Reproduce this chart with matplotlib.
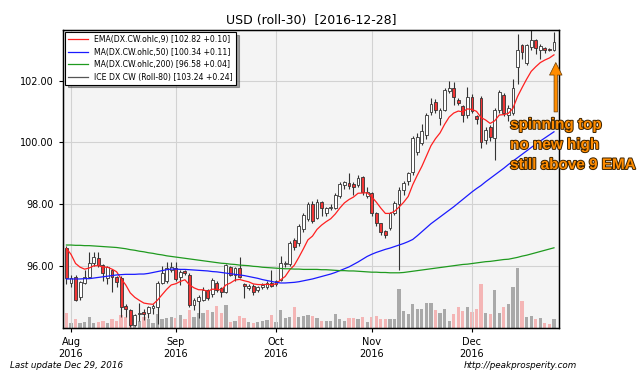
import numpy as np
import pandas as pd
import matplotlib
matplotlib.use("Agg")
from matplotlib import pyplot as plt
from matplotlib.lines import Line2D
import matplotlib.patheffects as pe

# trading days shown (ICE closed on Dec 26)
dates = pd.bdate_range("2016-07-29", "2016-12-28")
dates = dates[dates != pd.Timestamp("2016-12-26")]

opens = [
    96.57, 95.44, 95.63, 94.98, 95.44, 95.63, 96.08, 96.25, 96.02, 95.60,
    95.86, 95.63, 95.60, 94.69, 94.56, 94.07, 94.44, 94.50, 94.46, 94.62,
    94.66, 95.44, 95.50, 95.86, 95.92, 95.63, 95.82, 95.70, 94.72, 94.85,
    94.89, 95.21, 95.08, 95.44, 95.28, 95.14, 95.95, 95.70, 95.92, 95.41,
    95.28, 95.34, 95.21, 95.31, 95.31, 95.44, 95.40, 95.55, 96.05, 96.05,
    96.83, 96.73, 97.20, 97.50, 98.00, 97.55, 98.06, 97.70, 97.88, 97.87,
    98.26, 98.60, 98.68, 98.65, 98.60, 98.87, 98.25, 98.35, 97.70, 97.38,
    97.12, 97.22, 97.70, 98.00, 98.45, 98.74, 99.03, 99.68, 99.98, 100.23,
    100.98, 101.30, 100.80, 101.04, 101.66, 101.76, 101.37, 101.17, 100.88, 101.47,
    100.85, 101.43, 100.07, 100.50, 100.13, 101.04, 101.53, 100.88, 100.95, 102.44,
    103.15, 102.57, 103.09, 103.31, 102.99, 103.05, 103.02, 103.00,
]
highs = [
    96.65, 95.70, 95.70, 95.50, 95.85, 96.45, 96.45, 96.45, 96.05, 96.00,
    95.90, 95.65, 95.65, 94.75, 94.60, 94.45, 94.80, 94.60, 94.70, 94.75,
    95.50, 96.00, 96.12, 96.12, 96.12, 95.85, 95.85, 95.75, 94.95, 95.05,
    95.30, 95.25, 95.60, 95.50, 95.30, 96.05, 96.00, 95.95, 96.28, 95.45,
    95.40, 95.40, 95.35, 95.45, 95.50, 95.86, 95.55, 96.30, 96.15, 96.80,
    96.90, 97.35, 97.70, 98.05, 98.10, 98.15, 98.10, 97.90, 98.00, 98.35,
    98.70, 98.75, 99.00, 98.70, 98.95, 98.90, 98.55, 98.40, 97.75, 97.40,
    97.15, 97.75, 98.10, 98.55, 98.75, 99.05, 100.20, 100.30, 100.60, 100.95,
    101.45, 101.40, 101.10, 101.75, 102.00, 101.95, 101.45, 101.20, 101.80, 101.55,
    100.90, 101.50, 100.50, 100.55, 101.10, 101.70, 101.60, 101.20, 102.05, 103.50,
    103.20, 103.20, 103.64, 103.35, 103.20, 103.10, 103.05, 103.57,
]
lows = [
    95.40, 95.30, 94.85, 94.90, 95.40, 95.60, 96.00, 95.95, 95.50, 95.40,
    95.15, 95.30, 94.35, 94.35, 94.00, 94.05, 94.20, 94.25, 94.30, 94.45,
    94.10, 95.40, 95.45, 95.80, 95.50, 95.37, 95.70, 94.65, 94.55, 94.30,
    94.85, 94.90, 95.00, 95.15, 95.00, 95.10, 95.65, 95.50, 95.60, 94.95,
    95.20, 95.05, 95.15, 95.25, 95.25, 95.30, 95.35, 95.50, 95.95, 96.00,
    96.50, 96.65, 97.10, 97.45, 97.40, 97.50, 97.60, 97.60, 97.80, 97.85,
    98.20, 98.50, 98.50, 98.30, 98.55, 98.30, 98.20, 97.60, 97.30, 97.00,
    96.90, 97.15, 97.65, 95.85, 98.30, 98.60, 98.95, 99.60, 99.90, 100.10,
    100.90, 100.95, 100.55, 101.00, 101.60, 101.20, 101.20, 100.65, 100.80, 100.95,
    100.60, 99.80, 99.95, 100.05, 99.42, 100.95, 100.85, 100.70, 100.90, 101.90,
    102.70, 102.50, 103.00, 102.85, 102.70, 102.90, 102.95, 102.95,
]
closes = [
    95.60, 95.60, 94.89, 95.47, 95.63, 96.08, 96.28, 96.02, 95.76, 95.95,
    95.63, 95.47, 94.66, 94.60, 94.07, 94.40, 94.48, 94.44, 94.66, 94.69,
    95.44, 95.76, 95.92, 95.95, 95.57, 95.79, 95.76, 94.72, 94.89, 94.98,
    95.21, 94.95, 95.53, 95.21, 95.14, 96.02, 95.70, 95.92, 95.63, 95.34,
    95.34, 95.14, 95.31, 95.37, 95.44, 95.34, 95.50, 96.08, 96.08, 96.73,
    96.60, 97.30, 97.65, 98.00, 97.45, 98.05, 97.87, 97.87, 97.90, 98.29,
    98.64, 98.70, 98.58, 98.55, 98.84, 98.39, 98.40, 97.70, 97.38, 97.09,
    97.00, 97.70, 98.03, 98.45, 98.67, 99.00, 100.14, 100.17, 100.36, 100.89,
    101.23, 101.04, 101.05, 101.69, 101.76, 101.47, 101.27, 100.88, 101.47, 101.00,
    100.75, 100.00, 100.40, 100.17, 101.04, 101.63, 100.95, 101.10, 101.76, 103.00,
    102.92, 103.15, 103.31, 103.05, 103.12, 103.00, 103.00, 103.24,
]
# volume, thousands of contracts
volumes = [
    15, 5, 9, 5, 6, 11, 5, 6, 7, 5,
    9, 7, 13, 11, 8, 9, 7, 11, 9, 5,
    14, 9, 10, 11, 10, 13, 9, 18, 11, 15,
    15, 18, 16, 22, 15, 23, 6, 7, 12, 10,
    6, 5, 6, 7, 8, 13, 6, 18, 10, 11,
    21, 11, 12, 13, 12, 10, 7, 7, 7, 14,
    9, 7, 10, 10, 9, 11, 6, 11, 12, 9,
    9, 9, 9, 39, 17, 14, 24, 19, 19, 25,
    25, 18, 15, 19, 7, 14, 21, 17, 21, 16,
    19, 44, 15, 14, 38, 15, 21, 24, 41, 60,
    27, 11, 12, 9, 10, 5, 4, 9,
]
# moving averages (they need history before Aug)
ma50 = [
    95.57, 95.57, 95.57, 95.57, 95.58, 95.58, 95.60, 95.62, 95.64, 95.66,
    95.68, 95.70, 95.71, 95.72, 95.72, 95.72, 95.73, 95.73, 95.75, 95.78,
    95.81, 95.84, 95.87, 95.89, 95.89, 95.88, 95.88, 95.87, 95.86, 95.85,
    95.84, 95.83, 95.81, 95.80, 95.78, 95.76, 95.74, 95.72, 95.70, 95.68,
    95.65, 95.62, 95.59, 95.55, 95.52, 95.49, 95.46, 95.44, 95.44, 95.45,
    95.46, 95.48, 95.51, 95.54, 95.57, 95.61, 95.65, 95.69, 95.73, 95.78,
    95.84, 95.90, 95.96, 96.04, 96.12, 96.21, 96.30, 96.37, 96.43, 96.48,
    96.53, 96.57, 96.62, 96.67, 96.72, 96.78, 96.85, 96.97, 97.10, 97.23,
    97.36, 97.47, 97.58, 97.69, 97.80, 97.91, 98.03, 98.15, 98.27, 98.39,
    98.50, 98.60, 98.72, 98.83, 98.94, 99.05, 99.16, 99.28, 99.39, 99.50,
    99.61, 99.72, 99.83, 99.94, 100.04, 100.14, 100.24, 100.34,
]
ma200 = [
    96.67, 96.67, 96.66, 96.66, 96.65, 96.65, 96.64, 96.63, 96.62, 96.61,
    96.60, 96.59, 96.57, 96.55, 96.52, 96.50, 96.47, 96.45, 96.42, 96.40,
    96.37, 96.35, 96.32, 96.30, 96.28, 96.26, 96.24, 96.22, 96.20, 96.18,
    96.16, 96.14, 96.12, 96.10, 96.08, 96.07, 96.05, 96.04, 96.02, 96.01,
    96.00, 95.98, 95.97, 95.95, 95.94, 95.93, 95.92, 95.91, 95.90, 95.90,
    95.89, 95.89, 95.88, 95.88, 95.88, 95.88, 95.87, 95.87, 95.86, 95.85,
    95.84, 95.84, 95.83, 95.83, 95.82, 95.81, 95.80, 95.79, 95.79, 95.78,
    95.78, 95.77, 95.77, 95.77, 95.78, 95.80, 95.82, 95.84, 95.86, 95.88,
    95.90, 95.92, 95.94, 95.96, 95.98, 96.00, 96.02, 96.04, 96.05, 96.07,
    96.09, 96.11, 96.13, 96.14, 96.16, 96.18, 96.20, 96.21, 96.24, 96.27,
    96.31, 96.34, 96.38, 96.42, 96.46, 96.50, 96.54, 96.58,
]
ema_seed = 96.8  # 9-day EMA value on the day before the window

legend_labels = [
    "EMA(DX.CW.ohlc,9) [102.82 +0.10]",
    "MA(DX.CW.ohlc,50) [100.34 +0.11]",
    "MA(DX.CW.ohlc,200) [96.58 +0.04]",
    "ICE DX CW (Roll-80) [103.24 +0.24]",
]

o = np.array(opens)
h = np.array(highs)
l = np.array(lows)
c = np.array(closes)
x = np.arange(len(c))
up = c >= o

ema = pd.Series([ema_seed] + closes).ewm(span=9, adjust=False).mean().values[1:]

tick_pos = []
tick_lab = []
for i in range(1, len(dates)):
    if dates[i].month != dates[i - 1].month:
        tick_pos.append(i)
        tick_lab.append(dates[i].strftime("%b\n%Y"))

fig = plt.figure(figsize=(6.4, 3.73), dpi=100)
ax = fig.add_axes([0.0984, 0.1206, 0.775, 0.799])
axv = ax.twinx()
ax.set_zorder(axv.get_zorder() + 1)
ax.patch.set_visible(False)
axv.patch.set_visible(True)
axv.set_facecolor("#f4f4f4")

# volume
vcol = np.where(up, "#a9a9a9", "#f4b5b5")
axv.bar(x, volumes, width=0.72, color=vcol, linewidth=0)
axv.set_ylim(0, max(volumes) * 5.0)
axv.set_yticks([])

# candles
ax.vlines(x, l, h, color="#333333", lw=0.8, zorder=2)
bot = np.minimum(o, c)
hgt = np.maximum(np.abs(c - o), 0.025)
ax.bar(x[up], hgt[up], bottom=bot[up], width=0.62, color="white",
       edgecolor="#333333", linewidth=0.6, zorder=3)
ax.bar(x[~up], hgt[~up], bottom=bot[~up], width=0.62, color="#f23535",
       edgecolor="#333333", linewidth=0.6, zorder=3)

l1, = ax.plot(x, ema, color="#ff2020", lw=0.9, zorder=4)
l2, = ax.plot(x, ma50, color="#1a1aff", lw=0.9, zorder=4)
l3, = ax.plot(x, ma200, color="#1f9a1f", lw=0.9, zorder=4)
l4 = Line2D([], [], color="#555555", lw=0.9)

ax.set_xlim(-0.76, 108.1)
ax.set_ylim(93.98, 103.64)
ax.set_yticks([96, 98, 100, 102])
ax.yaxis.set_major_formatter(matplotlib.ticker.FormatStrFormatter("%.2f"))
ax.set_xticks(tick_pos)
ax.set_xticklabels(tick_lab)
ax.tick_params(labelsize=7, direction="out", length=3, width=0.8)
ax.grid(True, color="#d2d2d2", lw=0.8)
for s in ax.spines.values():
    s.set_linewidth(1.0)

ax.set_title("USD (roll-30)  [2016-12-28]", fontsize=9, pad=4)

leg = ax.legend([l1, l2, l3, l4], legend_labels, loc="upper left", fontsize=5.6,
                fancybox=False, shadow=True, framealpha=1, edgecolor="black",
                handlelength=2.6, borderaxespad=0.25, labelspacing=0.45)
leg.get_frame().set_linewidth(0.8)

# annotation on the last candle
ax.annotate("", xy=(x[-1] + 0.4, ema[-1] - 0.25), xytext=(x[-1] + 0.4, ema[-1] - 1.85),
            arrowprops=dict(facecolor="#ff8c00", edgecolor="#6a3a00", width=2.5,
                            headwidth=9, headlength=9, lw=0.5),
            annotation_clip=False, zorder=6)
fig.text(0.797, 0.684, "spinning top\nno new high\nstill above 9 EMA",
         color="#ff8c00", fontsize=11, fontweight="bold", family="Liberation Sans",
         va="top", ha="left", linespacing=1.55,
         path_effects=[pe.withStroke(linewidth=1.4, foreground="#3a2200")])

fig.text(0.016, 0.021, "Last update Dec 29, 2016", style="italic", fontsize=6.3, va="center")
fig.text(0.902, 0.021, "http://peakprosperity.com", style="italic", fontsize=6.3,
         va="center", ha="right")

fig.savefig("out.png", dpi=100)
